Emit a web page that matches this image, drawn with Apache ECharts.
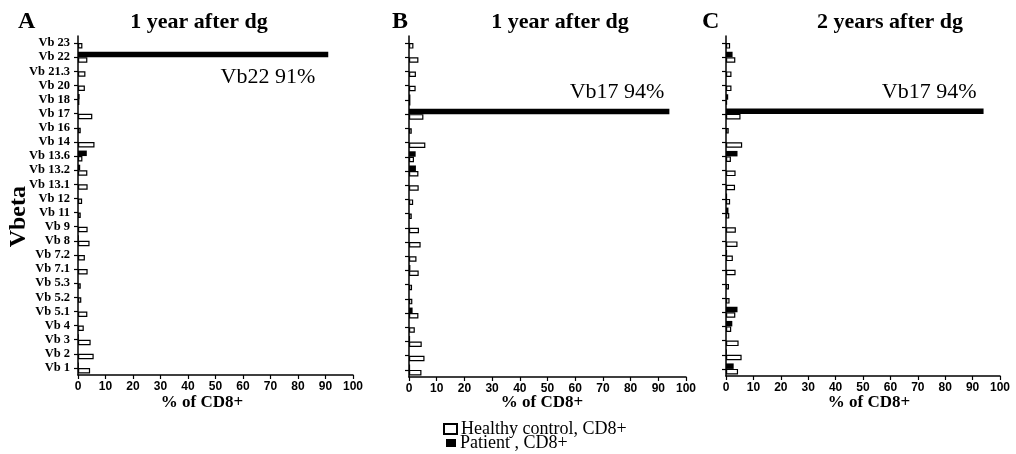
<!DOCTYPE html>
<html>
<head>
<meta charset="utf-8">
<title>Vbeta repertoire, CD8+</title>
<script src="https://cdn.jsdelivr.net/npm/echarts@6/dist/echarts.min.js"></script>
<style>
  html, body { margin: 0; padding: 0; background: #fff; }
  #chart { width: 1016px; height: 454px; }
</style>
</head>
<body>
<div id="chart"></div>
<script>
// Vbeta families, listed bottom to top along the category axis
const categories = ['Vb 1', 'Vb 2', 'Vb 3', 'Vb 4', 'Vb 5.1', 'Vb 5.2', 'Vb 5.3', 'Vb 7.1', 'Vb 7.2',
  'Vb 8', 'Vb 9', 'Vb 11', 'Vb 12', 'Vb 13.1', 'Vb 13.2', 'Vb 13.6', 'Vb 14', 'Vb 16', 'Vb 17',
  'Vb 18', 'Vb 20', 'Vb 21.3', 'Vb 22', 'Vb 23'];

// % of CD8+ cells per family
const controlA = [4.4, 5.7, 4.6, 2.1, 3.4, 1.2, 1.0, 3.5, 2.5, 4.2, 3.5, 1.0, 1.5, 3.5, 3.4, 1.6, 6.0, 1.0, 5.2, 0.5, 2.5, 2.7, 3.4, 1.6];
const patientA = [0.3, 0, 0.3, 0, 0, 0, 0, 0, 0, 0.3, 0, 0, 0, 0, 0.8, 3.2, 0, 0, 0, 0.6, 0, 0, 91, 0];

const controlB = [4.5, 5.6, 4.6, 2.1, 3.4, 1.2, 1.1, 3.5, 2.7, 4.2, 3.6, 1.0, 1.5, 3.5, 3.4, 1.8, 5.9, 1.0, 5.2, 0.5, 2.4, 2.5, 3.4, 1.6];
const patientB = [0.4, 0, 0.4, 0, 1.3, 0, 0, 0.5, 0, 0, 0, 0, 0, 0, 2.5, 2.4, 0, 0, 94, 0.5, 0, 0, 0, 0];

const controlC = [4.4, 5.7, 4.6, 1.9, 3.4, 1.3, 1.1, 3.5, 2.5, 4.2, 3.6, 1.2, 1.5, 3.3, 3.5, 1.8, 5.9, 1.0, 5.3, 0.4, 2.0, 2.0, 3.4, 1.5];
const patientC = [2.8, 0.3, 0, 2.3, 4.2, 0, 0, 0, 0.4, 0, 0, 0.9, 0.4, 0, 0, 4.2, 0, 0, 94, 0.8, 0, 0, 2.4, 0];

const panelLetters = ['A', 'B', 'C'];
const panelTitles = ['1 year after dg', '1 year after dg', '2 years after dg'];
const xTicks = [0, 10, 20, 30, 40, 50, 60, 70, 80, 90, 100];
const seriesNames = ['Healthy control, CD8+', 'Patient , CD8+'];
const valueAxisName = '% of CD8+';
const categoryAxisName = 'Vbeta';

const SERIF = '"Liberation Serif", "Times New Roman", serif';
const SANS = '"Liberation Sans", Arial, sans-serif';

const panels = [
  { control: controlA, patient: patientA, grid: { left: 78, right: 663, top: 36, bottom: 79 },
    letterX: 13, titleX: 194, axisNameX: 202,
    peakLabel: { pos: ['100%', '100%'], align: 'right', vAlign: 'top', offset: [-13, 9] } },
  { control: controlB, patient: patientB, grid: { left: 409, right: 330, top: 36, bottom: 77 },
    letterX: 387, titleX: 555, axisNameX: 542,
    peakLabel: { pos: ['100%', 0], align: 'right', vAlign: 'bottom', offset: [-5, -5] } },
  { control: controlC, patient: patientC, grid: { left: 726, right: 16, top: 36, bottom: 78 },
    letterX: 697, titleX: 885, axisNameX: 869,
    peakLabel: { pos: ['100%', 0], align: 'right', vAlign: 'bottom', offset: [-7, -5] } }
];

// The dominant clone in each panel gets a "family value%" label
function patientData(values, lab) {
  const peak = values.indexOf(Math.max(...values));
  return values.map((v, i) => {
    if (i !== peak) return v;
    return {
      value: v,
      label: {
        show: true,
        position: lab.pos,
        align: lab.align,
        verticalAlign: lab.vAlign,
        offset: lab.offset,
        formatter: () => categories[i].replace(' ', '') + ' ' + v + '%',
        fontFamily: SERIF,
        fontSize: 22,
        color: '#000'
      }
    };
  });
}

const grids = [], xAxes = [], yAxes = [], series = [], titles = [], graphics = [];

panels.forEach((p, k) => {
  grids.push(Object.assign({ containLabel: false }, p.grid));
  xAxes.push({
    type: 'value', gridIndex: k, min: 0, max: 100, interval: 10,
    axisLine: { show: true, lineStyle: { color: '#000', width: 1.5 } },
    axisTick: { show: true, length: 4, lineStyle: { color: '#000', width: 1.2 } },
    axisLabel: { fontFamily: SANS, fontWeight: 'bold', fontSize: 12, color: '#000', margin: 6,
      formatter: v => (xTicks.indexOf(v) >= 0 ? String(v) : '') },
    splitLine: { show: false }
  });
  yAxes.push({
    type: 'category', gridIndex: k, data: categories,
    axisLine: { show: true, lineStyle: { color: '#000', width: 1.5 } },
    axisTick: { show: true, alignWithLabel: true, interval: 0, length: 4, lineStyle: { color: '#000', width: 1.2 } },
    axisLabel: { show: k === 0, interval: 0, fontFamily: SERIF, fontWeight: 'bold', fontSize: 12.5, color: '#000', margin: 8 }
  });
  series.push({
    name: seriesNames[1], type: 'bar', xAxisIndex: k, yAxisIndex: k,
    data: patientData(p.patient, p.peakLabel),
    barWidth: 5.5, barGap: '0%',
    itemStyle: { color: '#000' },
    emphasis: { disabled: true }, animation: false
  });
  series.push({
    name: seriesNames[0], type: 'bar', xAxisIndex: k, yAxisIndex: k,
    data: p.control,
    barWidth: 5.5, barGap: '0%',
    itemStyle: { color: '#fff', borderColor: '#000', borderWidth: 1.2 },
    emphasis: { disabled: true }, animation: false
  });
  titles.push({
    text: panelLetters[k], left: p.letterX, top: 5,
    textStyle: { fontFamily: SERIF, fontWeight: 'bold', fontSize: 24, color: '#000' }
  });
  titles.push({
    text: panelTitles[k], left: p.titleX, top: 6, textAlign: 'center',
    textStyle: { fontFamily: SERIF, fontWeight: 'bold', fontSize: 22, color: '#000' }
  });
  // value-axis title under each panel
  graphics.push({
    type: 'text', x: p.axisNameX, y: 403,
    style: { text: valueAxisName, font: 'bold 17px ' + SERIF, fill: '#000',
      textAlign: 'center', textVerticalAlign: 'middle' }
  });
});

graphics.push({
  type: 'text', left: 7, top: 186, rotation: Math.PI / 2,
  style: { text: categoryAxisName, font: 'bold 24px ' + SERIF, fill: '#000' }
});

// One legend entry per row, stacked under the middle panel
const legendBase = {
  orient: 'vertical', icon: 'rect', selectedMode: false, padding: 0,
  textStyle: { fontFamily: SERIF, fontSize: 18, color: '#000', padding: [0, 0, 0, -1] }
};
const legends = [
  Object.assign({}, legendBase, { data: [seriesNames[0]], left: 443, top: 420, itemWidth: 13, itemHeight: 10 }),
  Object.assign({}, legendBase, { data: [seriesNames[1]], left: 446, top: 434, itemWidth: 10, itemHeight: 8 })
];

const chart = echarts.init(document.getElementById('chart'), null, { renderer: 'canvas' });
chart.setOption({
  backgroundColor: '#fff',
  animation: false,
  title: titles,
  grid: grids,
  xAxis: xAxes,
  yAxis: yAxes,
  series: series,
  legend: legends,
  graphic: graphics
});
</script>
</body>
</html>
